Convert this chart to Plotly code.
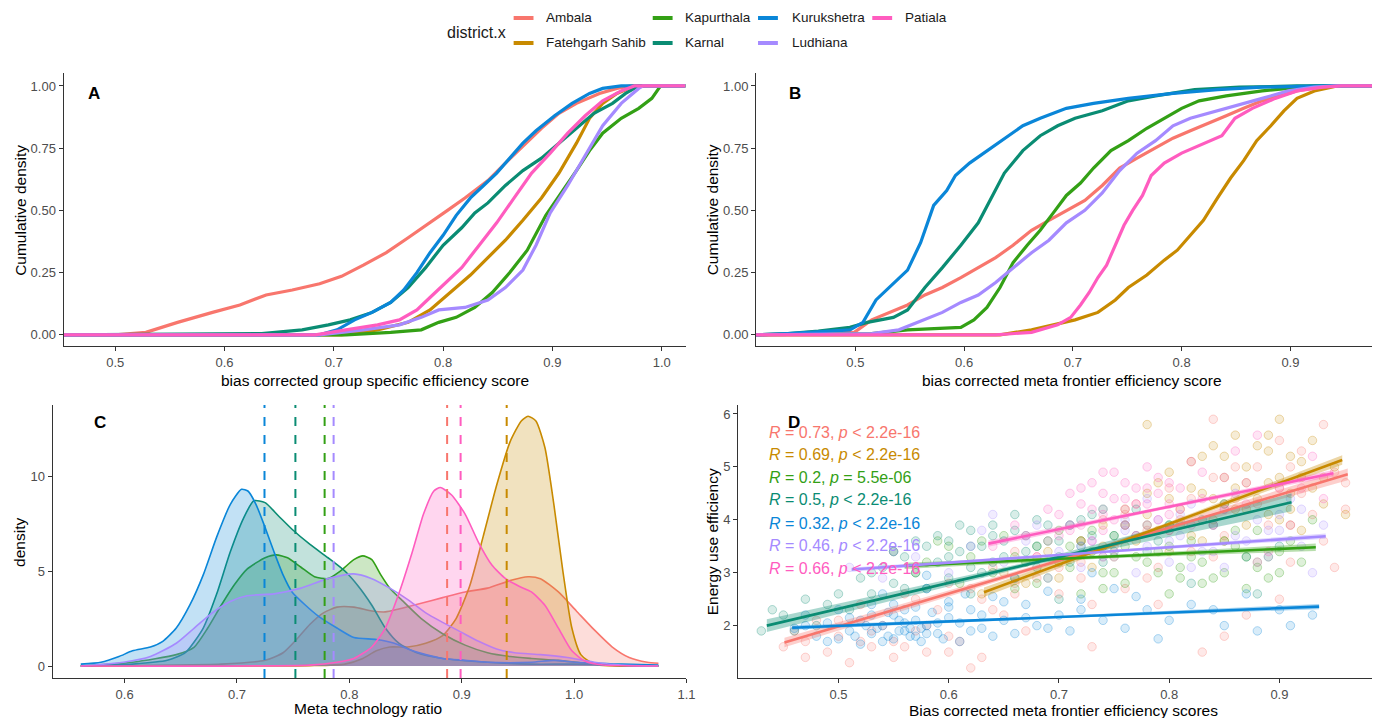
import plotly.graph_objects as go

W, H = 1381, 718
FONT = "Liberation Sans, Arial, sans-serif"

districts = ["Ambala", "Fatehgarh Sahib", "Kapurthala", "Karnal", "Kurukshetra", "Ludhiana", "Patiala"]
colors = ["#F8766D", "#C88A00", "#33A015", "#0A8C73", "#0A86D8", "#A58AFF", "#FF5CBF"]

# ---------------- Panel A : ECDF of group specific efficiency ----------------
A_amb_x = [0.50, 0.528, 0.557, 0.589, 0.614, 0.638, 0.662, 0.687, 0.707, 0.727, 0.748, 0.768, 0.788, 0.804, 0.82, 0.841, 0.857, 0.873, 0.89, 0.906, 0.922, 0.943, 0.959, 0.971]
A_amb_y = [0.0, 0.01, 0.05, 0.09, 0.12, 0.16, 0.18, 0.205, 0.235, 0.28, 0.33, 0.39, 0.45, 0.5, 0.55, 0.62, 0.69, 0.76, 0.83, 0.89, 0.93, 0.97, 0.99, 1.0]
A_fat_x = [0.707, 0.74, 0.768, 0.788, 0.804, 0.825, 0.841, 0.857, 0.873, 0.89, 0.906, 0.922, 0.934, 0.946, 0.959, 0.975]
A_fat_y = [0.0, 0.02, 0.05, 0.10, 0.16, 0.24, 0.31, 0.38, 0.46, 0.55, 0.65, 0.77, 0.87, 0.93, 0.97, 1.0]
A_kap_x = [0.711, 0.752, 0.78, 0.796, 0.812, 0.829, 0.845, 0.861, 0.877, 0.894, 0.91, 0.922, 0.934, 0.946, 0.963, 0.979, 0.991, 0.999]
A_kap_y = [0.0, 0.01, 0.02, 0.05, 0.07, 0.11, 0.17, 0.25, 0.34, 0.48, 0.58, 0.66, 0.74, 0.81, 0.87, 0.91, 0.95, 1.0]
A_kar_x = [0.634, 0.671, 0.695, 0.715, 0.735, 0.752, 0.768, 0.784, 0.8, 0.817, 0.829, 0.841, 0.857, 0.873, 0.89, 0.906, 0.922, 0.938, 0.955, 0.967, 0.979]
A_kar_y = [0.005, 0.02, 0.04, 0.06, 0.09, 0.13, 0.19, 0.27, 0.36, 0.43, 0.49, 0.53, 0.6, 0.66, 0.71, 0.77, 0.83, 0.89, 0.93, 0.97, 1.0]
A_kur_x = [0.687, 0.703, 0.719, 0.735, 0.752, 0.764, 0.776, 0.788, 0.8, 0.812, 0.825, 0.837, 0.849, 0.861, 0.873, 0.885, 0.902, 0.918, 0.934, 0.946, 0.963]
A_kur_y = [0.0, 0.02, 0.06, 0.09, 0.13, 0.18, 0.25, 0.33, 0.4, 0.48, 0.55, 0.6, 0.65, 0.71, 0.77, 0.82, 0.88, 0.93, 0.97, 0.99, 1.0]
A_lud_x = [0.687, 0.727, 0.76, 0.78, 0.796, 0.82, 0.841, 0.857, 0.873, 0.885, 0.898, 0.914, 0.93, 0.946, 0.963, 0.979, 0.983]
A_lud_y = [0.0, 0.02, 0.04, 0.07, 0.10, 0.11, 0.14, 0.19, 0.26, 0.36, 0.49, 0.6, 0.72, 0.84, 0.93, 0.99, 1.0]
A_pat_x = [0.683, 0.711, 0.74, 0.76, 0.776, 0.788, 0.8, 0.817, 0.833, 0.849, 0.865, 0.881, 0.898, 0.914, 0.93, 0.946, 0.963, 0.975]
A_pat_y = [0.0, 0.02, 0.04, 0.06, 0.1, 0.15, 0.2, 0.27, 0.36, 0.45, 0.55, 0.65, 0.73, 0.81, 0.88, 0.94, 0.98, 1.0]

# ---------------- Panel B : ECDF of meta frontier efficiency ----------------
B_amb_x = [0.499, 0.515, 0.531, 0.548, 0.564, 0.58, 0.597, 0.613, 0.629, 0.645, 0.662, 0.678, 0.694, 0.711, 0.727, 0.743, 0.759, 0.776, 0.792, 0.808, 0.825, 0.841, 0.857, 0.874, 0.89, 0.906, 0.926, 0.947]
B_amb_y = [0.01, 0.06, 0.09, 0.12, 0.16, 0.19, 0.23, 0.27, 0.31, 0.36, 0.42, 0.46, 0.5, 0.54, 0.6, 0.67, 0.71, 0.75, 0.79, 0.82, 0.85, 0.88, 0.91, 0.94, 0.96, 0.98, 0.995, 1.0]
B_fat_x = [0.633, 0.662, 0.682, 0.702, 0.723, 0.739, 0.751, 0.768, 0.784, 0.796, 0.808, 0.82, 0.833, 0.845, 0.857, 0.869, 0.882, 0.894, 0.906, 0.922, 0.943]
B_fat_y = [0.0, 0.02, 0.04, 0.06, 0.09, 0.14, 0.19, 0.24, 0.3, 0.34, 0.4, 0.46, 0.55, 0.63, 0.7, 0.78, 0.84, 0.9, 0.95, 0.98, 1.0]
B_kap_x = [0.515, 0.548, 0.572, 0.597, 0.609, 0.621, 0.633, 0.645, 0.658, 0.67, 0.682, 0.694, 0.707, 0.719, 0.735, 0.751, 0.768, 0.784, 0.8, 0.816, 0.841, 0.874, 0.906, 0.922]
B_kap_y = [0.005, 0.02, 0.025, 0.03, 0.06, 0.11, 0.19, 0.29, 0.36, 0.42, 0.49, 0.56, 0.61, 0.67, 0.74, 0.78, 0.83, 0.87, 0.91, 0.94, 0.96, 0.98, 0.995, 1.0]
B_kar_x = [0.438, 0.466, 0.495, 0.511, 0.535, 0.548, 0.564, 0.58, 0.597, 0.613, 0.625, 0.637, 0.654, 0.67, 0.686, 0.702, 0.727, 0.751, 0.776, 0.812, 0.853, 0.906]
B_kar_y = [0.005, 0.015, 0.03, 0.05, 0.07, 0.1, 0.19, 0.27, 0.36, 0.45, 0.55, 0.65, 0.74, 0.8, 0.84, 0.87, 0.9, 0.94, 0.96, 0.985, 0.995, 1.0]
B_kur_x = [0.438, 0.495, 0.507, 0.519, 0.531, 0.548, 0.56, 0.572, 0.584, 0.592, 0.605, 0.621, 0.637, 0.654, 0.67, 0.694, 0.719, 0.751, 0.792, 0.833, 0.874, 0.93]
B_kur_y = [0.005, 0.02, 0.05, 0.14, 0.19, 0.26, 0.37, 0.52, 0.58, 0.64, 0.69, 0.74, 0.79, 0.84, 0.87, 0.91, 0.93, 0.95, 0.97, 0.985, 0.995, 1.0]
B_lud_x = [0.515, 0.54, 0.564, 0.58, 0.597, 0.613, 0.629, 0.645, 0.662, 0.678, 0.694, 0.711, 0.727, 0.743, 0.759, 0.776, 0.792, 0.808, 0.825, 0.841, 0.857, 0.874, 0.898, 0.922, 0.943]
B_lud_y = [0.005, 0.02, 0.06, 0.09, 0.13, 0.16, 0.21, 0.27, 0.33, 0.38, 0.45, 0.5, 0.57, 0.66, 0.73, 0.78, 0.84, 0.87, 0.89, 0.91, 0.93, 0.95, 0.98, 0.995, 1.0]
B_pat_x = [0.629, 0.662, 0.686, 0.698, 0.707, 0.715, 0.723, 0.731, 0.739, 0.747, 0.755, 0.764, 0.772, 0.784, 0.8, 0.816, 0.837, 0.849, 0.865, 0.886, 0.906, 0.93, 0.947]
B_pat_y = [0.0, 0.01, 0.04, 0.07, 0.12, 0.17, 0.23, 0.28, 0.36, 0.44, 0.5, 0.56, 0.64, 0.69, 0.73, 0.76, 0.8, 0.87, 0.91, 0.95, 0.98, 0.995, 1.0]

# ---------------- Panel C : density of meta technology ratio ----------------
C_amb_x = [0.561, 0.686, 0.725, 0.741, 0.753, 0.765, 0.777, 0.789, 0.804, 0.820, 0.832, 0.844, 0.864, 0.883, 0.903, 0.923, 0.943, 0.959, 0.970, 0.986, 1.002, 1.018, 1.034, 1.049, 1.065, 1.075]
C_amb_y = [0.0, 0.1, 0.3, 0.7, 1.4, 2.2, 2.8, 3.1, 3.1, 2.9, 2.85, 3.0, 3.3, 3.6, 3.9, 4.1, 4.5, 4.7, 4.6, 3.9, 2.9, 1.9, 1.0, 0.45, 0.2, 0.15]
C_fat_x = [0.561, 0.765, 0.796, 0.812, 0.824, 0.836, 0.852, 0.868, 0.883, 0.895, 0.907, 0.919, 0.931, 0.943, 0.953, 0.959, 0.966, 0.974, 0.982, 0.990, 0.998, 1.006, 1.018, 1.075]
C_fat_y = [0.0, 0.02, 0.1, 0.4, 0.8, 1.0, 1.0, 1.2, 1.6, 2.5, 4.2, 6.8, 9.5, 11.8, 12.9, 13.15, 12.9, 11.5, 8.5, 5.0, 2.0, 0.6, 0.1, 0.0]
C_kap_x = [0.561, 0.607, 0.646, 0.662, 0.674, 0.686, 0.698, 0.709, 0.725, 0.735, 0.745, 0.757, 0.769, 0.781, 0.792, 0.804, 0.812, 0.820, 0.828, 0.836, 0.848, 0.864, 0.883, 0.903, 0.923, 0.943, 0.962, 0.986, 1.010, 1.034, 1.075]
C_kap_y = [0.0, 0.2, 0.6, 1.0, 2.0, 3.2, 4.3, 5.1, 5.7, 5.85, 5.7, 5.2, 4.7, 4.6, 5.0, 5.6, 5.8, 5.6, 4.8, 4.1, 3.4, 2.5, 1.7, 1.1, 0.7, 0.5, 0.4, 0.3, 0.15, 0.05, 0.0]
C_kar_x = [0.561, 0.607, 0.638, 0.654, 0.670, 0.682, 0.694, 0.706, 0.715, 0.725, 0.737, 0.749, 0.765, 0.781, 0.796, 0.808, 0.820, 0.832, 0.844, 0.860, 0.883, 0.923, 0.962, 1.002, 1.075]
C_kar_y = [0.0, 0.1, 0.3, 0.7, 2.0, 3.8, 6.0, 7.8, 8.7, 8.6, 7.9, 7.2, 6.4, 5.7, 5.0, 4.2, 3.2, 2.0, 1.2, 0.7, 0.4, 0.2, 0.1, 0.1, 0.0]
C_kur_x = [0.561, 0.579, 0.595, 0.607, 0.623, 0.634, 0.646, 0.658, 0.670, 0.682, 0.694, 0.704, 0.710, 0.717, 0.725, 0.733, 0.741, 0.749, 0.761, 0.773, 0.789, 0.804, 0.824, 0.840, 0.852, 0.868, 0.883, 0.903, 0.923, 0.962, 0.982, 1.002, 1.042, 1.075]
C_kur_y = [0.1, 0.2, 0.5, 0.8, 1.0, 1.3, 2.0, 3.2, 4.8, 6.8, 8.5, 9.3, 9.2, 8.5, 7.3, 6.0, 4.8, 3.9, 3.2, 2.6, 2.0, 1.5, 1.4, 1.2, 0.9, 0.6, 0.4, 0.3, 0.2, 0.2, 0.3, 0.2, 0.1, 0.05]
C_lud_x = [0.561, 0.599, 0.623, 0.646, 0.662, 0.678, 0.694, 0.709, 0.733, 0.757, 0.781, 0.804, 0.820, 0.836, 0.852, 0.868, 0.883, 0.899, 0.915, 0.931, 0.947, 0.970, 0.994, 1.018, 1.042, 1.075]
C_lud_y = [0.0, 0.2, 0.5, 1.2, 2.0, 2.8, 3.4, 3.7, 3.8, 4.1, 4.6, 4.85, 4.6, 4.1, 3.5, 2.8, 2.3, 1.8, 1.3, 0.9, 0.7, 0.6, 0.45, 0.2, 0.05, 0.0]
C_pat_x = [0.561, 0.765, 0.789, 0.804, 0.820, 0.832, 0.844, 0.856, 0.866, 0.875, 0.881, 0.891, 0.903, 0.915, 0.927, 0.939, 0.951, 0.962, 0.974, 0.986, 0.998, 1.010, 1.026, 1.075]
C_pat_y = [0.0, 0.05, 0.2, 0.4, 1.0, 2.0, 3.8, 6.0, 8.0, 9.2, 9.4, 9.0, 8.0, 6.5, 5.3, 4.6, 4.2, 3.9, 3.2, 2.0, 0.8, 0.25, 0.05, 0.0]
C_means = [0.887, 0.940, 0.778, 0.752, 0.7245, 0.786, 0.899]

# ---------------- Panel D : scatter + linear fits ----------------
D_amb_x = [0.45, 0.46, 0.47, 0.48, 0.49, 0.50, 0.51, 0.52, 0.53, 0.54, 0.55, 0.56, 0.57, 0.58, 0.59, 0.60, 0.61, 0.62, 0.63, 0.64, 0.65, 0.66, 0.67, 0.68, 0.69, 0.70, 0.71, 0.72, 0.73, 0.74, 0.75, 0.76, 0.77, 0.78, 0.79, 0.80, 0.81, 0.82, 0.83, 0.84, 0.85, 0.86, 0.87, 0.88, 0.89, 0.90, 0.91, 0.92, 0.93, 0.94, 0.95, 0.96, 0.95, 0.90, 0.84, 0.52, 0.56, 0.60, 0.66, 0.72,
           0.47, 0.50, 0.53, 0.55, 0.58, 0.60, 0.62, 0.64, 0.66, 0.68, 0.70, 0.72, 0.74, 0.76, 0.78, 0.80, 0.82, 0.84, 0.86, 0.88, 0.90, 0.92, 0.94, 0.96, 0.73, 0.79, 0.85, 0.91, 0.57, 0.63]
D_amb_y = [1.6, 1.9, 1.4, 2.1, 1.5, 1.8, 1.3, 2.4, 1.6, 2.0, 1.4, 2.6, 1.9, 1.5, 2.3, 2.8, 1.7, 1.2, 2.5, 3.1, 2.2, 3.4, 1.9, 2.9, 3.6, 2.6, 3.9, 3.2, 2.4, 4.0, 3.5, 2.7, 4.3, 3.8, 3.1, 4.6, 4.0, 3.4, 1.5, 4.8, 3.7, 4.4, 2.2, 5.0, 3.9, 4.6, 3.2, 5.3, 4.1, 5.8, 3.1, 4.2, 4.9, 2.5, 5.9, 1.7, 1.6, 1.8, 2.6, 2.9,
           1.7, 2.1, 1.9, 1.7, 2.0, 1.5, 2.7, 2.3, 2.8, 3.3, 3.1, 3.6, 3.3, 4.1, 2.9, 3.8, 4.4, 3.3, 5.0, 4.3, 5.5, 4.5, 3.6, 4.7, 1.6, 2.4, 1.8, 5.0, 2.5, 1.4]
D_fat_x = [0.63, 0.65, 0.67, 0.69, 0.70, 0.72, 0.73, 0.74, 0.75, 0.76, 0.77, 0.78, 0.79, 0.80, 0.80, 0.81, 0.82, 0.82, 0.83, 0.84, 0.84, 0.85, 0.85, 0.86, 0.86, 0.87, 0.87, 0.88, 0.88, 0.89, 0.89, 0.90, 0.90, 0.91, 0.91, 0.92, 0.92, 0.93, 0.94, 0.95, 0.96, 0.78,
           0.74, 0.76, 0.78, 0.79, 0.81, 0.82, 0.83, 0.84, 0.85, 0.86, 0.87, 0.88, 0.89, 0.90, 0.91, 0.92, 0.93, 0.83, 0.85, 0.87, 0.89, 0.91, 0.80, 0.94]
D_fat_y = [2.6, 3.0, 2.8, 3.4, 2.9, 3.6, 3.1, 3.9, 3.3, 4.2, 3.6, 4.5, 3.8, 4.9, 3.4, 4.2, 5.1, 3.7, 4.5, 4.0, 5.4, 3.6, 4.8, 4.2, 5.6, 3.9, 5.0, 4.4, 3.2, 5.3, 4.7, 4.0, 5.9, 4.5, 5.2, 4.8, 3.8, 5.5, 4.3, 5.0, 4.1, 5.8,
           3.5, 3.9, 4.1, 4.7, 3.9, 4.6, 5.2, 4.4, 5.2, 4.6, 4.2, 5.4, 4.1, 4.8, 3.9, 5.1, 4.6, 3.6, 4.3, 4.7, 5.6, 4.2, 4.4, 4.8]
D_kap_x = [0.55, 0.57, 0.59, 0.61, 0.62, 0.64, 0.65, 0.66, 0.67, 0.68, 0.69, 0.70, 0.71, 0.72, 0.73, 0.74, 0.75, 0.76, 0.77, 0.78, 0.79, 0.80, 0.81, 0.82, 0.83, 0.84, 0.85, 0.86, 0.87, 0.88, 0.89, 0.90, 0.91, 0.92, 0.93, 0.74, 0.80,
           0.58, 0.60, 0.63, 0.66, 0.68, 0.70, 0.72, 0.74, 0.76, 0.78, 0.80, 0.82, 0.84, 0.86, 0.88, 0.90, 0.75, 0.77, 0.79, 0.81, 0.83, 0.85, 0.87, 0.89, 0.71, 0.73]
D_kap_y = [3.4, 3.0, 3.6, 2.8, 3.3, 3.0, 3.7, 2.7, 3.2, 3.5, 2.9, 3.8, 3.1, 2.6, 3.4, 3.0, 3.7, 2.8, 3.3, 3.9, 3.0, 3.5, 2.9, 3.6, 3.2, 3.9, 3.0, 3.5, 2.7, 3.8, 3.3, 3.0, 3.6, 3.2, 4.0, 4.2, 2.6,
           3.2, 3.5, 3.6, 3.3, 2.8, 3.2, 3.6, 2.7, 3.5, 3.2, 3.9, 3.3, 2.9, 3.8, 3.1, 3.4, 3.0, 3.7, 3.4, 3.1, 2.8, 3.6, 3.3, 2.9, 3.5, 3.8]
D_kar_x = [0.43, 0.45, 0.47, 0.48, 0.50, 0.51, 0.52, 0.53, 0.54, 0.55, 0.56, 0.57, 0.58, 0.58, 0.59, 0.60, 0.60, 0.61, 0.62, 0.62, 0.63, 0.64, 0.64, 0.65, 0.66, 0.66, 0.67, 0.68, 0.68, 0.69, 0.70, 0.71, 0.72, 0.73, 0.74, 0.75, 0.77, 0.78, 0.80, 0.82, 0.85, 0.88, 0.90, 0.62, 0.70,
           0.44, 0.46, 0.49, 0.53, 0.55, 0.56, 0.57, 0.59, 0.60, 0.61, 0.62, 0.63, 0.64, 0.65, 0.66, 0.67, 0.68, 0.69, 0.70, 0.71, 0.72, 0.73, 0.75, 0.76, 0.79, 0.83, 0.87]
D_kar_y = [1.9, 2.2, 2.5, 2.0, 2.6, 2.3, 2.9, 2.6, 3.1, 2.8, 3.3, 3.0, 3.5, 2.7, 3.2, 3.6, 2.9, 3.4, 3.8, 3.1, 3.5, 3.9, 3.2, 3.6, 2.9, 3.8, 3.4, 4.0, 3.1, 3.6, 3.3, 3.9, 3.5, 4.1, 3.2, 3.7, 4.2, 3.4, 3.9, 2.8, 4.3, 2.6, 3.5, 2.6, 2.5,
           2.3, 1.9, 2.4, 3.0, 3.4, 2.7, 3.6, 3.7, 3.3, 3.9, 3.5, 3.0, 3.7, 3.3, 4.1, 3.7, 3.5, 3.9, 3.6, 3.2, 4.0, 3.7, 3.4, 3.9, 3.6, 4.0, 3.3]
D_kur_x = [0.46, 0.47, 0.48, 0.49, 0.50, 0.50, 0.51, 0.52, 0.52, 0.53, 0.53, 0.535, 0.54, 0.54, 0.545, 0.545, 0.55, 0.55, 0.555, 0.56, 0.56, 0.565, 0.57, 0.57, 0.575, 0.58, 0.58, 0.58, 0.59, 0.60, 0.60, 0.61, 0.62, 0.63, 0.64, 0.65, 0.66, 0.66, 0.67, 0.68, 0.69, 0.70, 0.71, 0.72, 0.73, 0.74, 0.75, 0.76, 0.78, 0.80, 0.82, 0.85, 0.88, 0.90, 0.93,
           0.47, 0.49, 0.51, 0.515, 0.525, 0.53, 0.54, 0.55, 0.555, 0.56, 0.565, 0.57, 0.575, 0.58, 0.585, 0.59, 0.595, 0.60, 0.61, 0.615, 0.62, 0.63, 0.64, 0.65, 0.67, 0.69, 0.72, 0.77, 0.84, 0.87, 0.91, 0.79]
D_kur_y = [1.95, 2.2, 1.8, 2.05, 1.75, 2.3, 1.9, 2.1, 1.65, 2.4, 1.85, 1.95, 2.0, 2.6, 1.8, 2.25, 1.75, 2.2, 2.1, 1.9, 2.05, 1.95, 1.8, 2.35, 1.7, 2.0, 2.7, 2.95, 1.85, 2.15, 2.45, 1.7, 2.3, 1.95, 2.55, 2.1, 1.85, 2.9, 2.4, 2.0, 2.65, 2.2, 1.9, 2.5, 3.0, 2.1, 2.7, 1.95, 2.3, 2.1, 2.4, 2.0, 1.9, 2.3, 2.2,
           2.0, 1.7, 2.15, 1.8, 2.0, 2.2, 1.7, 2.4, 1.9, 2.3, 1.8, 2.1, 1.95, 1.85, 2.25, 2.05, 1.75, 2.35, 2.05, 2.6, 1.9, 2.2, 1.8, 2.45, 2.15, 1.95, 2.3, 2.55, 2.3, 2.6, 2.0, 1.75]
D_lud_x = [0.51, 0.54, 0.57, 0.60, 0.62, 0.64, 0.65, 0.67, 0.69, 0.70, 0.71, 0.72, 0.73, 0.74, 0.75, 0.76, 0.77, 0.78, 0.79, 0.80, 0.81, 0.82, 0.83, 0.84, 0.85, 0.86, 0.87, 0.88, 0.89, 0.90, 0.91, 0.92, 0.94, 0.93,
           0.55, 0.63, 0.68, 0.72, 0.74, 0.76, 0.78, 0.80, 0.82, 0.84, 0.86, 0.88, 0.90, 0.92, 0.77, 0.81, 0.85, 0.89]
D_lud_y = [3.1, 2.9, 3.3, 3.0, 3.5, 4.1, 3.2, 3.6, 2.9, 3.4, 3.9, 3.1, 3.6, 4.2, 3.3, 3.8, 3.0, 3.5, 4.0, 3.2, 3.7, 4.3, 3.4, 3.9, 3.1, 4.5, 3.6, 4.0, 3.3, 3.8, 4.4, 3.5, 3.9, 3.0,
           3.4, 3.8, 3.9, 3.5, 3.3, 4.0, 4.4, 3.6, 3.1, 3.4, 3.7, 3.2, 4.1, 4.2, 3.7, 4.1, 4.2, 3.8]
D_pat_x = [0.64, 0.66, 0.68, 0.69, 0.70, 0.71, 0.72, 0.72, 0.73, 0.73, 0.74, 0.74, 0.75, 0.75, 0.76, 0.76, 0.77, 0.77, 0.78, 0.78, 0.79, 0.79, 0.80, 0.80, 0.81, 0.82, 0.83, 0.84, 0.85, 0.86, 0.87, 0.88, 0.90, 0.91, 0.93, 0.94, 0.89,
           0.67, 0.70, 0.71, 0.72, 0.73, 0.74, 0.75, 0.76, 0.77, 0.78, 0.79, 0.80, 0.81, 0.82, 0.83, 0.85, 0.87, 0.74, 0.76, 0.78, 0.80, 0.92]
D_pat_y = [3.5, 3.9, 3.3, 4.2, 3.7, 4.5, 3.9, 4.3, 3.6, 4.7, 4.1, 3.8, 4.4, 4.9, 3.9, 4.2, 4.6, 3.7, 4.3, 5.0, 4.0, 4.5, 3.8, 4.7, 4.2, 5.1, 4.4, 3.9, 4.8, 5.3, 4.3, 5.6, 4.6, 3.9, 5.2, 4.4, 3.4,
           3.7, 4.1, 3.8, 4.6, 4.2, 4.5, 4.0, 4.7, 4.3, 3.9, 4.8, 4.3, 4.6, 3.9, 4.9, 4.2, 4.7, 4.9, 4.4, 4.6, 4.1, 4.6]

# fitted linear lines (start/end) and confidence half-widths (start, middle, end)
fit_x0 = [0.451, 0.632, 0.56, 0.435, 0.458, 0.512, 0.636]
fit_x1 = [0.962, 0.957, 0.933, 0.911, 0.936, 0.942, 0.949]
fit_y0 = [1.68, 2.63, 3.13, 2.00, 1.96, 3.06, 3.55]
fit_y1 = [4.86, 5.13, 3.48, 4.33, 2.36, 3.69, 4.88]
ci_hw = [[0.09, 0.035, 0.11], [0.09, 0.035, 0.09], [0.06, 0.03, 0.07], [0.12, 0.04, 0.17],
         [0.04, 0.02, 0.05], [0.04, 0.02, 0.05], [0.06, 0.03, 0.06]]
stat_labels = ["<i>R</i> = 0.73, <i>p</i> &lt; 2.2e-16", "<i>R</i> = 0.69, <i>p</i> &lt; 2.2e-16",
               "<i>R</i> = 0.2, <i>p</i> = 5.5e-06", "<i>R</i> = 0.5, <i>p</i> &lt; 2.2e-16",
               "<i>R</i> = 0.32, <i>p</i> &lt; 2.2e-16", "<i>R</i> = 0.46, <i>p</i> &lt; 2.2e-16",
               "<i>R</i> = 0.66, <i>p</i> &lt; 2.2e-16"]

A_x = [A_amb_x, A_fat_x, A_kap_x, A_kar_x, A_kur_x, A_lud_x, A_pat_x]
A_y = [A_amb_y, A_fat_y, A_kap_y, A_kar_y, A_kur_y, A_lud_y, A_pat_y]
B_x = [B_amb_x, B_fat_x, B_kap_x, B_kar_x, B_kur_x, B_lud_x, B_pat_x]
B_y = [B_amb_y, B_fat_y, B_kap_y, B_kar_y, B_kur_y, B_lud_y, B_pat_y]
C_x = [C_amb_x, C_fat_x, C_kap_x, C_kar_x, C_kur_x, C_lud_x, C_pat_x]
C_y = [C_amb_y, C_fat_y, C_kap_y, C_kar_y, C_kur_y, C_lud_y, C_pat_y]
D_x = [D_amb_x, D_fat_x, D_kap_x, D_kar_x, D_kur_x, D_lud_x, D_pat_x]
D_y = [D_amb_y, D_fat_y, D_kap_y, D_kar_y, D_kur_y, D_lud_y, D_pat_y]

# axis ranges
A_xr = [0.4527, 1.0218]
B_xr = [0.4087, 0.975]
AB_yr = [-0.045, 1.052]
C_xr = [0.536, 1.1]
C_yr = [-0.63, 13.74]
D_xr = [0.409, 0.984]
D_yr = [1.01, 6.17]


def rgba(hex_c, a):
    h = hex_c.lstrip("#")
    r, g, b = int(h[0:2], 16), int(h[2:4], 16), int(h[4:6], 16)
    return f"rgba({r},{g},{b},{a})"


def px(x):
    return x / W


def py(y):
    return 1 - y / H


fig = go.Figure()

# Panel A & B ECDF lines (padded to panel edges like stat_ecdf)
for xs_all, ys_all, xa, ya, xr in [(A_x, A_y, "x", "y", A_xr), (B_x, B_y, "x2", "y2", B_xr)]:
    for i, d in enumerate(districts):
        xs = [xr[0]] + xs_all[i] + [xr[1]]
        ys = [0.0] + ys_all[i] + [1.0]
        fig.add_trace(go.Scatter(x=xs, y=ys, mode="lines", line=dict(color=colors[i], width=3.2),
                                 xaxis=xa, yaxis=ya, showlegend=False, hoverinfo="skip", name=d))

# Panel C densities
for i, d in enumerate(districts):
    fig.add_trace(go.Scatter(x=C_x[i], y=C_y[i], mode="lines", fill="tozeroy",
                             fillcolor=rgba(colors[i], 0.25),
                             line=dict(color=colors[i], width=1.6, shape="spline", smoothing=0.6),
                             xaxis="x3", yaxis="y3", showlegend=False, hoverinfo="skip", name=d))

# Panel D scatter points
for i, d in enumerate(districts):
    fig.add_trace(go.Scatter(x=D_x[i], y=D_y[i], mode="markers",
                             marker=dict(size=8.5, color=rgba(colors[i], 0.16),
                                         line=dict(color=rgba(colors[i], 0.3), width=1)),
                             xaxis="x4", yaxis="y4", showlegend=False, hoverinfo="skip", name=d))

# Panel D confidence ribbons and fitted lines
for i, d in enumerate(districts):
    x0, x1, y0, y1 = fit_x0[i], fit_x1[i], fit_y0[i], fit_y1[i]
    xm = (x0 + x1) / 2
    ym = y0 + (y1 - y0) * (xm - x0) / (x1 - x0)
    xs = [x0, xm, x1]
    fy = [y0, ym, y1]
    up = [fy[k] + ci_hw[i][k] for k in range(3)]
    lo = [fy[k] - ci_hw[i][k] for k in range(3)]
    fig.add_trace(go.Scatter(x=xs + xs[::-1], y=up + lo[::-1], mode="lines", fill="toself",
                             fillcolor=rgba(colors[i], 0.35), line=dict(width=0),
                             xaxis="x4", yaxis="y4", showlegend=False, hoverinfo="skip"))
for i, d in enumerate(districts):
    fig.add_trace(go.Scatter(x=[fit_x0[i], fit_x1[i]], y=[fit_y0[i], fit_y1[i]], mode="lines",
                             line=dict(color=colors[i], width=2.6),
                             xaxis="x4", yaxis="y4", showlegend=False, hoverinfo="skip"))

# mean lines in C
shapes = []
for i, m in enumerate(C_means):
    shapes.append(dict(type="line", xref="x3", yref="y3 domain", x0=m, x1=m, y0=0, y1=1,
                       line=dict(color=colors[i], width=2, dash="dash")))

# Manual legend (two rows, column-major like ggplot)
leg_cols = [(517, 548), (657, 687), (763, 795), (878, 909)]
leg_rows = [18, 43]
annotations = []
for i, d in enumerate(districts):
    col, row = divmod(i, 2)
    kx, tx = leg_cols[col]
    yy = leg_rows[row]
    shapes.append(dict(type="line", xref="paper", yref="paper", x0=px(kx), x1=px(kx + 20),
                       y0=py(yy), y1=py(yy), line=dict(color=colors[i], width=4)))
    annotations.append(dict(x=px(tx), y=py(yy), xref="paper", yref="paper", text=d, showarrow=False,
                            xanchor="left", yanchor="middle", font=dict(family=FONT, size=13.5, color="#1A1A1A")))
annotations.append(dict(x=px(448), y=py(33), xref="paper", yref="paper", text="district.x", showarrow=False,
                        xanchor="left", yanchor="middle", font=dict(family=FONT, size=16, color="#1A1A1A")))

# Panel letters
for lab, (lx, ly) in zip("ABCD", [(95, 93), (800, 93), (101, 422), (799, 422)]):
    annotations.append(dict(x=px(lx), y=py(ly), xref="paper", yref="paper", text=f"<b>{lab}</b>",
                            showarrow=False, xanchor="center", yanchor="middle",
                            font=dict(family=FONT, size=17, color="black")))

# Axis titles
titles = [
    ("bias corrected group specific efficiency score", 377, 380, 0),
    ("bias corrected meta frontier efficiency score", 1079, 380, 0),
    ("Cumulative density", 20, 210, -90),
    ("Cumulative density", 717, 210, -90),
    ("density", 19, 542, -90),
    ("Meta technology ratio", 370, 708, 0),
    ("Energy use efficiency", 717, 542, -90),
    ("Bias corrected meta frontier efficiency scores", 1070, 710, 0),
]
for t, tx, ty, ang in titles:
    annotations.append(dict(x=px(tx), y=py(ty), xref="paper", yref="paper", text=t, showarrow=False,
                            xanchor="center", yanchor="middle", textangle=ang,
                            font=dict(family=FONT, size=15.5, color="black")))

# Stat labels in D
stat_y = [432, 454, 477, 499, 523, 545, 568]
for i, lab in enumerate(stat_labels):
    annotations.append(dict(x=px(772), y=py(stat_y[i]), xref="paper", yref="paper", text=lab,
                            showarrow=False, xanchor="left", yanchor="middle",
                            font=dict(family=FONT, size=16, color=colors[i])))


def axis(domain, rng, tickvals, ticktext, anchor):
    return dict(domain=domain, range=rng, tickvals=tickvals, ticktext=ticktext, anchor=anchor,
                showline=True, linecolor="#333333", linewidth=1.1, ticks="outside", ticklen=4,
                tickcolor="#333333", tickwidth=1.1, showgrid=False, zeroline=False,
                tickfont=dict(family=FONT, size=13, color="#4D4D4D"), fixedrange=True)


xA = [px(64), px(690)]
xB = [px(761), 1.0]
yAB = [py(346), py(73)]
xC = [px(53), px(691)]
xD = [px(743), 1.0]
yCD = [py(678), py(405)]

fig.update_layout(
    width=W, height=H, margin=dict(l=0, r=0, t=0, b=0),
    paper_bgcolor="white", plot_bgcolor="white", showlegend=False,
    xaxis=axis(xA, A_xr, [0.5, 0.6, 0.7, 0.8, 0.9, 1.0], ["0.5", "0.6", "0.7", "0.8", "0.9", "1.0"], "y"),
    yaxis=axis(yAB, AB_yr, [0, 0.25, 0.5, 0.75, 1.0], ["0.00", "0.25", "0.50", "0.75", "1.00"], "x"),
    xaxis2=axis(xB, B_xr, [0.5, 0.6, 0.7, 0.8, 0.9], ["0.5", "0.6", "0.7", "0.8", "0.9"], "y2"),
    yaxis2=axis(yAB, AB_yr, [0, 0.25, 0.5, 0.75, 1.0], ["0.00", "0.25", "0.50", "0.75", "1.00"], "x2"),
    xaxis3=axis(xC, C_xr, [0.6, 0.7, 0.8, 0.9, 1.0, 1.1], ["0.6", "0.7", "0.8", "0.9", "1.0", "1.1"], "y3"),
    yaxis3=axis(yCD, C_yr, [0, 5, 10], ["0", "5", "10"], "x3"),
    xaxis4=axis(xD, D_xr, [0.5, 0.6, 0.7, 0.8, 0.9], ["0.5", "0.6", "0.7", "0.8", "0.9"], "y4"),
    yaxis4=axis(yCD, D_yr, [2, 3, 4, 5, 6], ["2", "3", "4", "5", "6"], "x4"),
    shapes=shapes, annotations=annotations,
)

fig.write_html("out.html")
